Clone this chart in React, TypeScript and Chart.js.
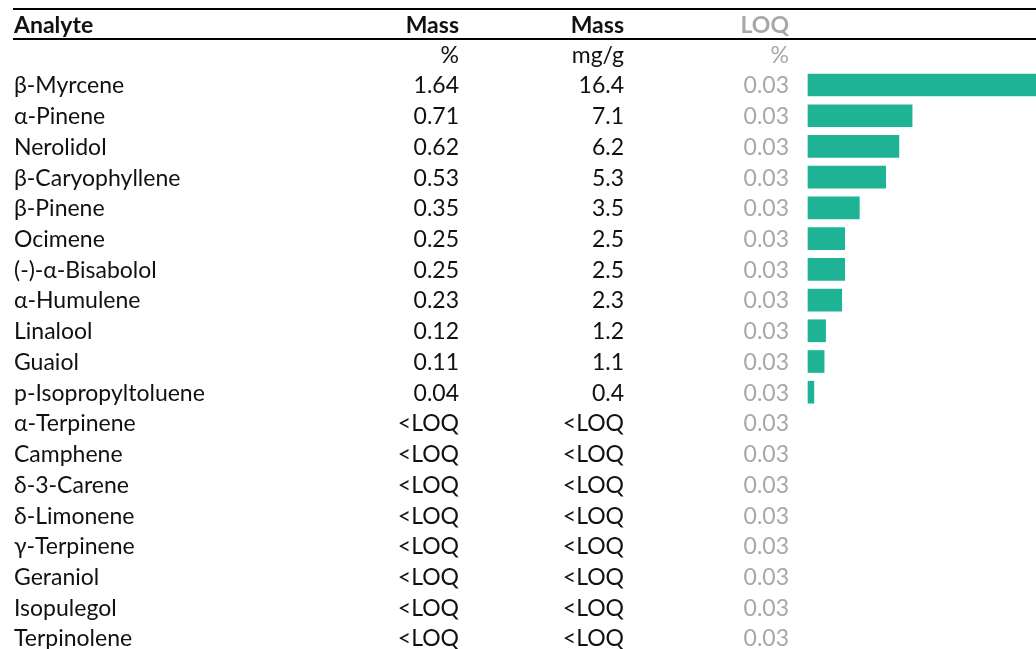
import React, { useEffect, useRef } from "react";
import { Chart, registerables } from "chart.js";

Chart.register(...registerables);

const analytes = [
  "β-Myrcene", "α-Pinene", "Nerolidol", "β-Caryophyllene", "β-Pinene", "Ocimene",
  "(-)-α-Bisabolol", "α-Humulene", "Linalool", "Guaiol", "p-Isopropyltoluene",
  "α-Terpinene", "Camphene", "δ-3-Carene", "δ-Limonene", "γ-Terpinene", "Geraniol",
  "Isopulegol", "Terpinolene",
];
const massPct = [
  "1.64", "0.71", "0.62", "0.53", "0.35", "0.25", "0.25", "0.23", "0.12", "0.11", "0.04",
  "<LOQ", "<LOQ", "<LOQ", "<LOQ", "<LOQ", "<LOQ", "<LOQ", "<LOQ",
];
const massMg = [
  "16.4", "7.1", "6.2", "5.3", "3.5", "2.5", "2.5", "2.3", "1.2", "1.1", "0.4",
  "<LOQ", "<LOQ", "<LOQ", "<LOQ", "<LOQ", "<LOQ", "<LOQ", "<LOQ",
];
const loq = [
  "0.03", "0.03", "0.03", "0.03", "0.03", "0.03", "0.03", "0.03", "0.03", "0.03", "0.03",
  "0.03", "0.03", "0.03", "0.03", "0.03", "0.03", "0.03", "0.03",
];
const barValues = [
  1.64, 0.71, 0.62, 0.53, 0.35, 0.25, 0.25, 0.23, 0.12, 0.11, 0.04,
  null, null, null, null, null, null, null, null,
];
const headers = ["Analyte", "Mass", "Mass", "LOQ"];
const units = ["", "%", "mg/g", "%"];

const FONT = "Lato, 'Noto Sans', sans-serif";
const SIZE = 23;
const TEXT = "#111111";
const GREY = "#a8a8a8";
const BAR = "#1db394";

const tablePlugin = {
  id: "tableText",
  afterDraw(chart: any) {
    const ctx = chart.ctx;
    const y = chart.scales.y;
    const W = chart.width;
    const colL = 14;
    const colR = [459, 624, 789];
    ctx.save();
    ctx.fillStyle = "#000";
    ctx.fillRect(13, 8, W - 13, 2);
    ctx.fillRect(13, 38, W - 13, 2);
    ctx.textBaseline = "middle";
    const off = 1;
    ctx.font = `bold ${SIZE}px ${FONT}`;
    ctx.fillStyle = TEXT;
    ctx.textAlign = "left";
    ctx.fillText(headers[0], colL, 25 + off);
    ctx.textAlign = "right";
    ctx.fillText(headers[1], colR[0], 25 + off);
    ctx.fillText(headers[2], colR[1], 25 + off);
    ctx.fillStyle = GREY;
    ctx.fillText(headers[3], colR[2], 25 + off);
    ctx.font = `${SIZE}px ${FONT}`;
    ctx.fillStyle = TEXT;
    ctx.fillText(units[1], colR[0], 55 + off);
    ctx.fillText(units[2], colR[1], 55 + off);
    ctx.fillStyle = GREY;
    ctx.fillText(units[3], colR[2], 55 + off);
    analytes.forEach((name, i) => {
      const py = y.getPixelForValue(i) + off;
      ctx.font = `${SIZE}px ${FONT}`;
      ctx.fillStyle = TEXT;
      ctx.textAlign = "left";
      ctx.fillText(name, colL, py);
      ctx.textAlign = "right";
      ctx.fillText(massPct[i], colR[0], py);
      ctx.fillText(massMg[i], colR[1], py);
      ctx.fillStyle = GREY;
      ctx.fillText(loq[i], colR[2], py);
    });
    ctx.restore();
  },
};

export default function App() {
  const ref = useRef<HTMLCanvasElement | null>(null);
  useEffect(() => {
    if (!ref.current) return;
    const chart = new Chart(ref.current, {
      type: "bar",
      data: {
        labels: analytes,
        datasets: [
          {
            data: barValues as any,
            backgroundColor: BAR,
            borderWidth: 0,
            barThickness: 22,
            clip: false as any,
          },
        ],
      },
      options: {
        indexAxis: "y",
        animation: false,
        responsive: false,
        maintainAspectRatio: false,
        layout: { padding: { left: 808, right: 0, top: 85, bottom: 11 } },
        plugins: { legend: { display: false }, tooltip: { enabled: false } },
        scales: {
          x: { display: false, min: 0, max: 1.555 },
          y: { display: false, offset: false, grid: { display: false } },
        },
      },
      plugins: [tablePlugin],
    });
    return () => chart.destroy();
  }, []);
  return (
    <div style={{ position: "fixed", left: 0, top: 0, width: 1036, height: 649, background: "#fff" }}>
      <canvas ref={ref} width={1036} height={649} style={{ width: 1036, height: 649, display: "block" }} />
    </div>
  );
}
